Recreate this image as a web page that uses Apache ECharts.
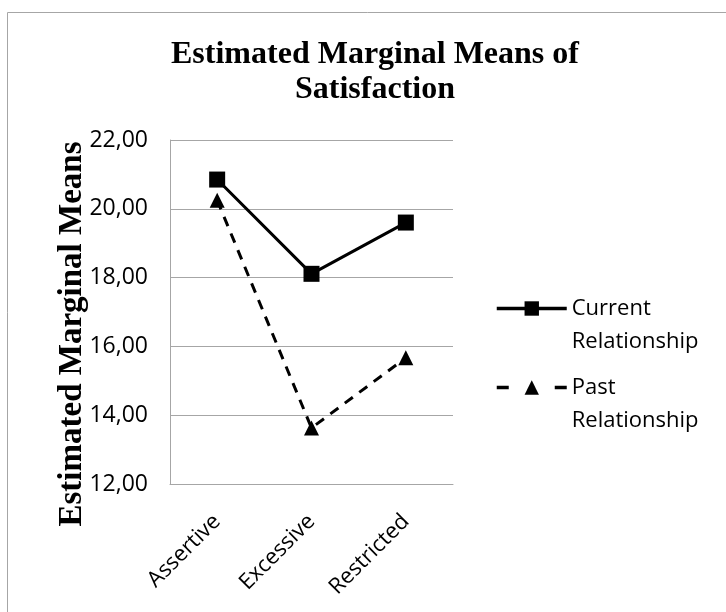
<!DOCTYPE html>
<html><head><meta charset="utf-8">
<script src="https://cdn.jsdelivr.net/npm/echarts@6/dist/echarts.min.js"></script>
<style>html,body{margin:0;padding:0;background:#fff}#c{width:726px;height:612px}</style>
</head><body><div id="c"></div>
<script>
const categories = ['Assertive', 'Excessive', 'Restricted'];
const currentValues = [20.85, 18.11, 19.6];
const pastValues = [20.25, 13.63, 15.67];
const yTicks = { min: 12, max: 22, interval: 2 };
const titleText = 'Estimated Marginal Means of\nSatisfaction';
const yAxisName = 'Estimated Marginal Means';
const seriesNames = ['Current\nRelationship', 'Past\nRelationship'];

const legendText = { fontFamily: 'Open Sans', fontSize: 22, lineHeight: 33, color: '#000' };
const chart = echarts.init(document.getElementById('c'), null, { renderer: 'canvas' });
chart.setOption({
  animation: false,
  backgroundColor: '#fff',
  graphic: [{
    type: 'rect', shape: { x: 7.5, y: 12.5, width: 740, height: 620 },
    style: { fill: 'none', stroke: '#a6a6a6', lineWidth: 1 }, silent: true
  }, {
    type: 'text', x: 72, y: 334, rotation: Math.PI / 2,
    style: { text: yAxisName, fontFamily: 'Liberation Serif', fontWeight: 'bold', fontSize: 33,
      fill: '#000', align: 'center', verticalAlign: 'middle' }
  }],
  title: {
    text: titleText, left: 370, top: 32, textAlign: 'center',
    textStyle: { fontFamily: 'Liberation Serif', fontWeight: 'bold', fontSize: 32, lineHeight: 35, color: '#000' }
  },
  legend: [{
    orient: 'vertical', left: 495, top: 259, padding: 0,
    itemWidth: 70, itemHeight: 18, itemGap: 0,
    formatter: n => ' \n' + n,
    lineStyle: { width: 3.5 },
    textStyle: legendText, data: [seriesNames[0]]
  }, {
    orient: 'vertical', left: 495, top: 338, padding: 0,
    itemWidth: 70, itemHeight: 18, itemGap: 0,
    formatter: n => ' \n' + n,
    lineStyle: { type: [12, 46], width: 3.5 },
    textStyle: legendText, data: [seriesNames[1]]
  }],
  grid: { left: 170, top: 140, width: 283, height: 344, containLabel: false },
  xAxis: {
    type: 'category', data: categories, boundaryGap: true,
    axisLine: { show: true, lineStyle: { color: '#a6a6a6', width: 1 } },
    axisTick: { show: false },
    axisLabel: { rotate: 45, fontFamily: 'Open Sans', fontSize: 22, color: '#000', margin: 34 }
  },
  yAxis: {
    type: 'value', min: yTicks.min, max: yTicks.max, interval: yTicks.interval,
    axisLine: { show: true, lineStyle: { color: '#a6a6a6', width: 1 } },
    axisTick: { show: false },
    splitLine: { lineStyle: { color: '#a6a6a6', width: 1 } },
    axisLabel: {
      fontFamily: 'Open Sans', fontSize: 23, color: '#000', margin: 22,
      formatter: v => v.toFixed(2).replace('.', ',')
    }
  },
  series: [
    {
      name: seriesNames[0], type: 'line', data: currentValues,
      symbol: 'rect', symbolSize: 16,
      lineStyle: { color: '#000', width: 3, type: 'solid' },
      itemStyle: { color: '#000' }
    },
    {
      name: seriesNames[1], type: 'line', data: pastValues,
      symbol: 'triangle', symbolSize: 15,
      lineStyle: { color: '#000', width: 3, type: [10, 8] },
      itemStyle: { color: '#000' }
    }
  ]
});
</script></body></html>
